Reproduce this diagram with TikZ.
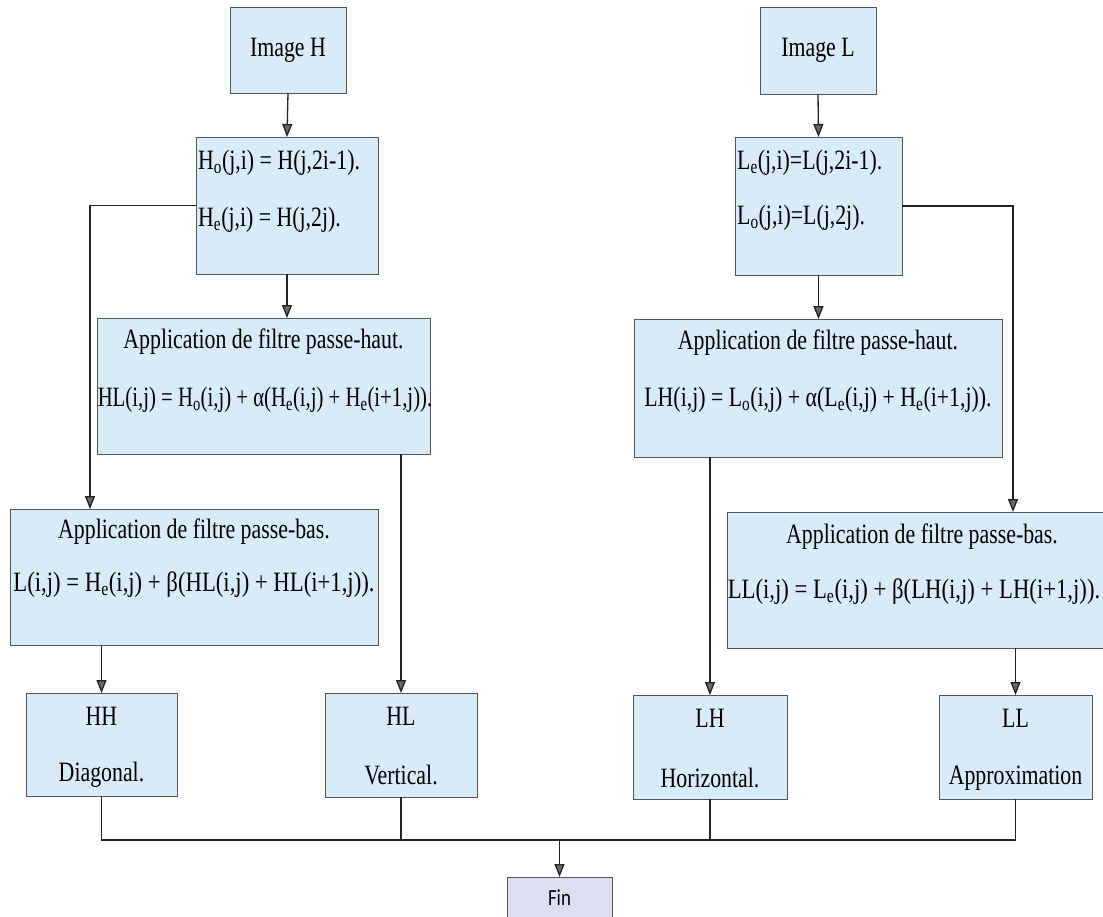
\documentclass[tikz,border=0pt]{standalone}
\usepackage{graphicx}
\usepackage{fontspec}
\setmainfont{Liberation Serif}[FakeStretch=0.78]
\newfontfamily\finfont{Carlito}[FakeStretch=0.82]
\usetikzlibrary{arrows.meta}
\definecolor{boxfill}{RGB}{216,235,248}
\definecolor{finfill}{RGB}{221,222,242}
\definecolor{edge}{RGB}{85,85,85}
\definecolor{wirecol}{RGB}{35,35,35}
\definecolor{tipfill}{RGB}{105,105,105}
\tikzset{
  box/.style={draw=edge, line width=1pt, fill=boxfill, inner sep=0pt, outer sep=0pt},
  endbox/.style={box, fill=finfill},
  txt/.style={inner sep=0pt, font=\fontsize{28}{32}\selectfont},
  fintxt/.style={inner sep=0pt, font=\finfont\fontsize{23}{26}\selectfont},
  wire/.style={draw=wirecol, line width=1.3pt},
  flow/.style={wire, -{Triangle[length=13pt,width=10pt,fill=tipfill]}},
}
\newcommand{\sub}[1]{\textsubscript{#1}}
\newcommand{\squeeze}[2]{\scalebox{#1}[1]{#2}}
\begin{document}
\begin{tikzpicture}[x=1pt,y=-1pt]
\useasboundingbox (0,0) rectangle (1103,916);

% ---------- boxes ----------
\node[box, minimum width=116pt, minimum height=86pt]  (imgH) at (288,50) {};
\node[box, minimum width=182pt, minimum height=137pt] (Hbox) at (287,205.5) {};
\node[box, minimum width=333pt, minimum height=136pt] (phL)  at (263.5,386) {};
\node[box, minimum width=368pt, minimum height=136pt] (pbL)  at (194,577) {};
\node[box, minimum width=151pt, minimum height=103pt] (HH)   at (101.5,744.5) {};
\node[box, minimum width=152pt, minimum height=104pt] (HL)   at (401,745) {};

\node[box, minimum width=116pt, minimum height=87pt]  (imgL) at (818,50.5) {};
\node[box, minimum width=167pt, minimum height=138pt] (Lbox) at (818.5,206) {};
\node[box, minimum width=368pt, minimum height=138pt] (phR)  at (818,388) {};
\node[box, minimum width=383pt, minimum height=136pt] (pbR)  at (918.5,580) {};
\node[box, minimum width=154pt, minimum height=104pt] (LH)   at (710,747) {};
\node[box, minimum width=153pt, minimum height=104pt] (LL)   at (1015.5,747) {};

\node[endbox, minimum width=105pt, minimum height=46pt] (Fin) at (559.5,900) {};

% ---------- texts ----------
\node[txt] (tImgH) at (288,50) {Image H};
\node[txt, anchor=west] (tH1) at (198,163) {H\sub{o}(j,i) = H(j,2i-1).};
\node[txt, anchor=west] (tH2) at (198,220) {H\sub{e}(j,i) = H(j,2j).};
\node[txt] (tphL1) at (263.5,342) {Application de filtre passe-haut.};
\node[txt] (tphL2) at (265,400) {\squeeze{0.95}{HL(i,j) = H\sub{o}(i,j) + α(H\sub{e}(i,j) + H\sub{e}(i+1,j)).}};
\node[txt] (tpbL1) at (194,532) {Application de filtre passe-bas.};
\node[txt] (tpbL2) at (194,585) {\squeeze{1.04}{L(i,j) = H\sub{e}(i,j) + β(HL(i,j) + HL(i+1,j)).}};
\node[txt] (tHH1) at (101.5,716) {HH};
\node[txt] (tHH2) at (101.5,775) {Diagonal.};
\node[txt] (tHL1) at (401,716) {HL};
\node[txt] (tHL2) at (401,775) {Vertical.};

\node[txt] (tImgL) at (818,50.5) {Image L};
\node[txt, anchor=west] (tL1) at (737,163) {L\sub{e}(j,i)=L(j,2i-1).};
\node[txt, anchor=west] (tL2) at (737,218) {L\sub{o}(j,i)=L(j,2j).};
\node[txt] (tphR1) at (818,343) {Application de filtre passe-haut.};
\node[txt] (tphR2) at (818,400) {LH(i,j) = L\sub{o}(i,j) + α(L\sub{e}(i,j) + H\sub{e}(i+1,j)).};
\node[txt] (tpbR1) at (922,537) {Application de filtre passe-bas.};
\node[txt] (tpbR2) at (914,592) {\squeeze{1.04}{LL(i,j) = L\sub{e}(i,j) + β(LH(i,j) + LH(i+1,j)).}};
\node[txt] (tLH1) at (710,718) {LH};
\node[txt] (tLH2) at (710,778) {Horizontal.};
\node[txt] (tLL1) at (1015.5,718) {LL};
\node[txt] (tLL2) at (1015.5,778) {Approximation};

\node[fintxt] (tFin) at (559.5,898) {Fin};

% ---------- connectors ----------
\coordinate (hLeft)  at (90,206);
\coordinate (lRight) at (1013,207);
\coordinate (bus)    at (0,840);

\draw[flow] (imgH.south) -- (Hbox.north);
\draw[flow] (Hbox.west) -| (pbL.north -| hLeft);
\draw[flow] (Hbox.south) -- (phL.north -| Hbox.south);
\draw[flow] (phL.south -| HL.north) -- (HL.north);
\draw[flow] (pbL.south -| HH.north) -- (HH.north);

\draw[flow] (imgL.south) -- (Lbox.north);
\draw[flow] (Lbox.east) -| (pbR.north -| lRight);
\draw[flow] (Lbox.south) -- (phR.north -| Lbox.south);
\draw[flow] (phR.south -| LH.north) -- (LH.north);
\draw[flow] (pbR.south -| LL.north) -- (LL.north);

\draw[wire] (HH.south) -- (HH.south |- bus) -- (LL.south |- bus) -- (LL.south);
\draw[wire] (HL.south) -- (HL.south |- bus);
\draw[wire] (LH.south) -- (LH.south |- bus);
\draw[flow] (Fin.north |- bus) -- (Fin.north);
\end{tikzpicture}
\end{document}
